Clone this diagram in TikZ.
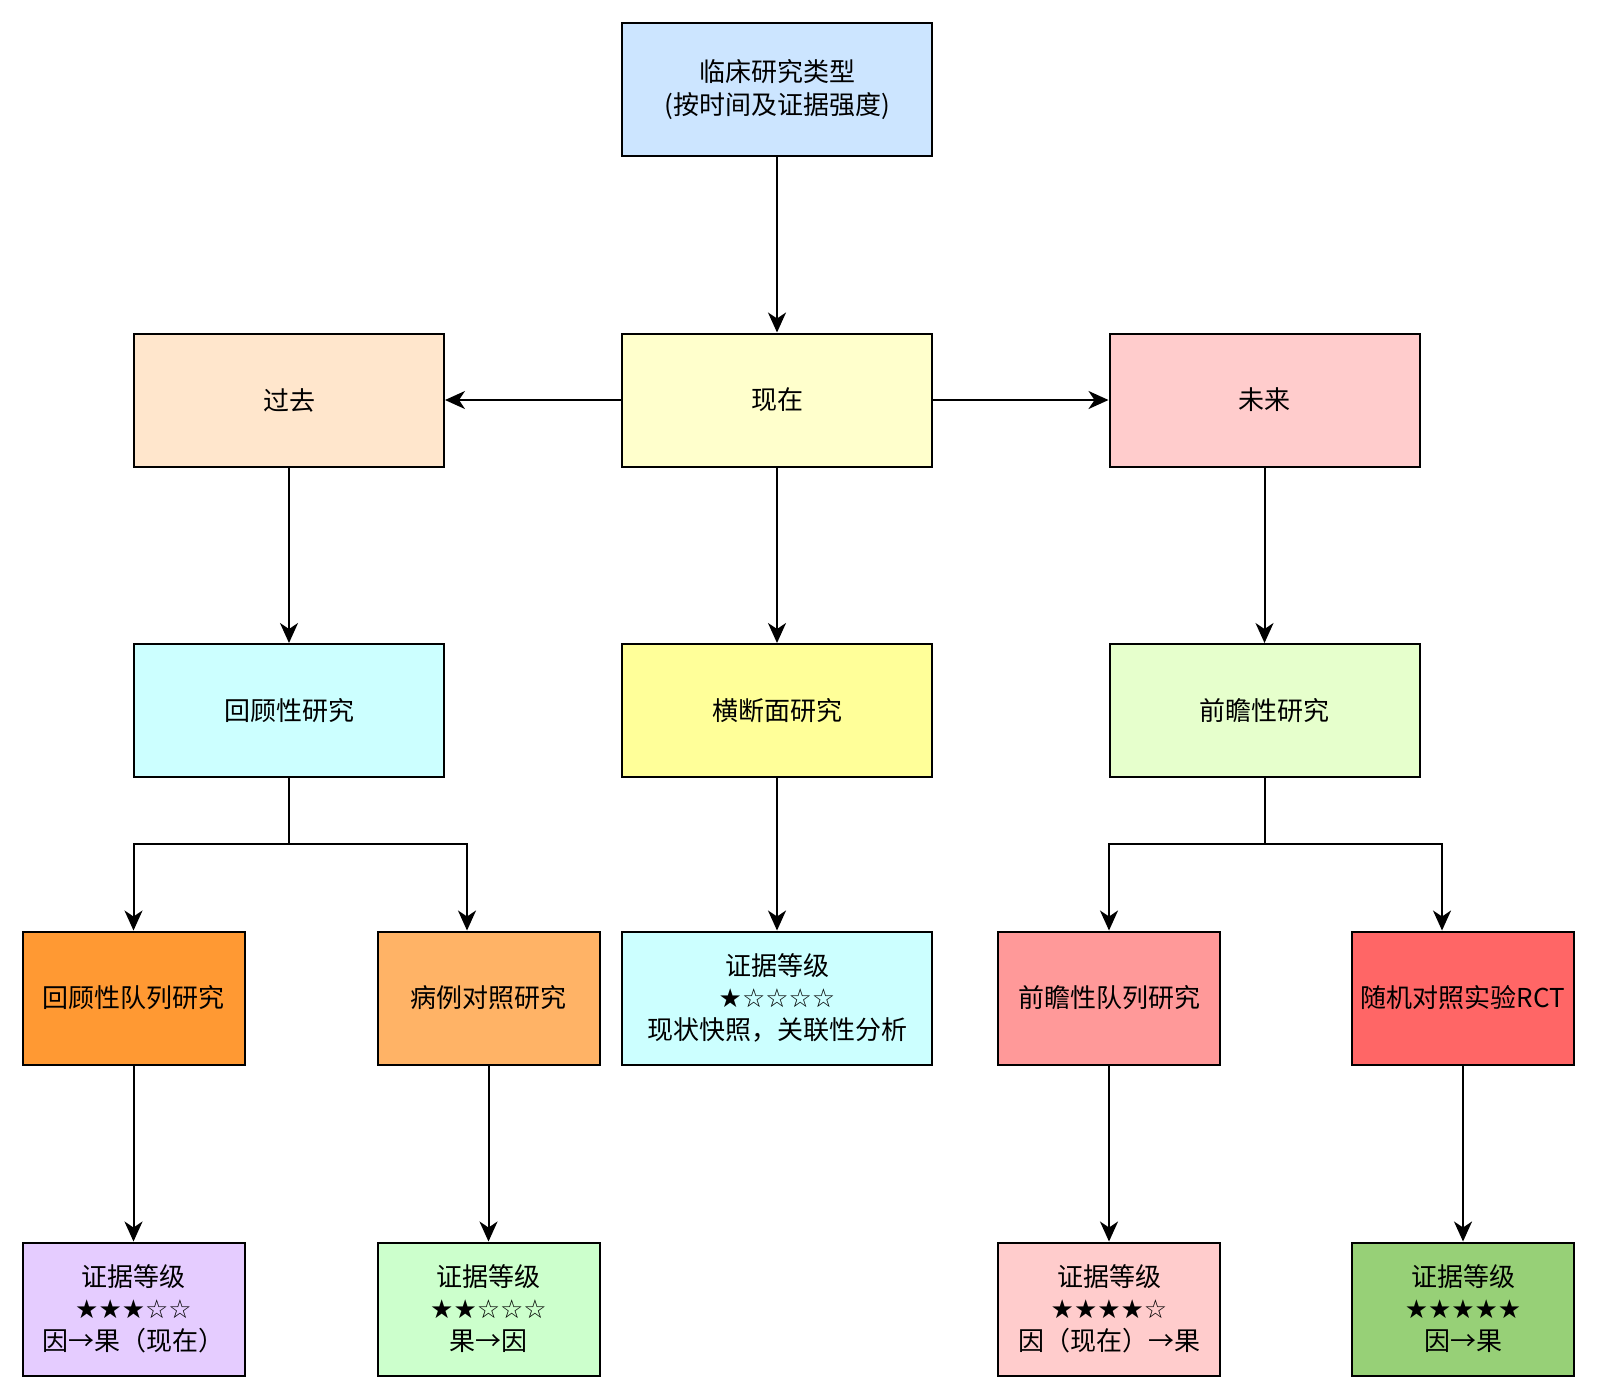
\documentclass[tikz,border=0pt]{standalone}
\usepackage{fontspec}
\setmainfont{Noto Sans CJK SC}
\newfontfamily\starfont{DejaVu Sans}
\usetikzlibrary{arrows.meta,calc}
\definecolor{cTop}{HTML}{CCE5FF}
\definecolor{cPast}{HTML}{FFE6CC}
\definecolor{cNow}{HTML}{FFFFCC}
\definecolor{cFut}{HTML}{FFCCCC}
\definecolor{cRetro}{HTML}{CCFFFF}
\definecolor{cCross}{HTML}{FFFF99}
\definecolor{cPros}{HTML}{E6FFCC}
\definecolor{cRC}{HTML}{FF9933}
\definecolor{cCC}{HTML}{FFB366}
\definecolor{cPC}{HTML}{FF9999}
\definecolor{cRCT}{HTML}{FF6666}
\definecolor{cEvA}{HTML}{E5CCFF}
\definecolor{cEvB}{HTML}{CCFFCC}
\definecolor{cEvC}{HTML}{FFCCCC}
\definecolor{cEvD}{HTML}{97D077}
\tikzset{
  box/.style={draw=black, line width=1pt, rectangle, align=center, inner sep=0pt,
    font=\fontsize{13}{16}\selectfont, minimum height=66.5pt},
  wide/.style={box, minimum width=155pt},
  narrow/.style={box, minimum width=111pt},
  arr/.style={line width=1pt, -{Stealth[length=10pt,width=9pt,inset=3pt]}},
  ln/.style={line width=1pt},
}
\begin{document}
\begin{tikzpicture}[x=0.5pt,y=-0.5pt]
\useasboundingbox (0,0) rectangle (1598,1399);
% row 1
\node[wide, fill=cTop, font=\fontsize{13}{16.5}\selectfont] (top) at (777,89.5) {临床研究类型\\(按时间及证据强度)};
% row 2
\node[wide, fill=cPast] (past) at (289,400) {过去};
\node[wide, fill=cNow] (now) at (777,400) {现在};
\node[wide, fill=cFut] (fut) at (1264.5,400) {未来};
% row 3
\node[wide, fill=cRetro] (retro) at (289,710.5) {回顾性研究};
\node[wide, fill=cCross] (cross) at (777,710.5) {横断面研究};
\node[wide, fill=cPros] (pros) at (1264.5,710.5) {前瞻性研究};
% row 4
\node[narrow, fill=cRC] (rc) at (133.5,998) {回顾性队列研究};
\node[narrow, fill=cCC] (cc) at (488.5,998) {病例对照研究};
\node[wide, fill=cRetro] (crossev) at (777,998) {证据等级\\{\starfont ★☆☆☆☆}\\现状快照，关联性分析};
\node[narrow, fill=cPC] (pc) at (1109,998) {前瞻性队列研究};
\node[narrow, fill=cRCT] (rct) at (1463,998) {随机对照实验RCT};
% row 5
\node[narrow, fill=cEvA] (evrc) at (133.5,1309) {证据等级\\{\starfont ★★★☆☆}\\因→果（现在）};
\node[narrow, fill=cEvB] (evcc) at (488.5,1309) {证据等级\\{\starfont ★★☆☆☆}\\果→因};
\node[narrow, fill=cEvC] (evpc) at (1109,1309) {证据等级\\{\starfont ★★★★☆}\\因（现在）→果};
\node[narrow, fill=cEvD] (evrct) at (1463,1309) {证据等级\\{\starfont ★★★★★}\\因→果};
% connectors
\draw[arr] (top.south) -- (now.north);
\draw[arr] (now.west) -- (past.east);
\draw[arr] (now.east) -- (fut.west);
\draw[arr] (past.south) -- (retro.north);
\draw[arr] (now.south) -- (cross.north);
\draw[arr] (fut.south) -- (pros.north);
\coordinate (jl) at (289,844);
\coordinate (xl) at (467,0);
\draw[ln] (retro.south) -- (jl);
\draw[arr] (jl) -| (rc.north);
\draw[arr] (jl) -| (xl |- cc.north);
\coordinate (jr) at (1264.5,844);
\coordinate (xr) at (1442,0);
\draw[ln] (pros.south) -- (jr);
\draw[arr] (jr) -| (pc.north);
\draw[arr] (jr) -| (xr |- rct.north);
\draw[arr] (cross.south) -- (crossev.north);
\draw[arr] (rc.south) -- (evrc.north);
\draw[arr] (cc.south) -- (evcc.north);
\draw[arr] (pc.south) -- (evpc.north);
\draw[arr] (rct.south) -- (evrct.north);
\end{tikzpicture}
\end{document}
